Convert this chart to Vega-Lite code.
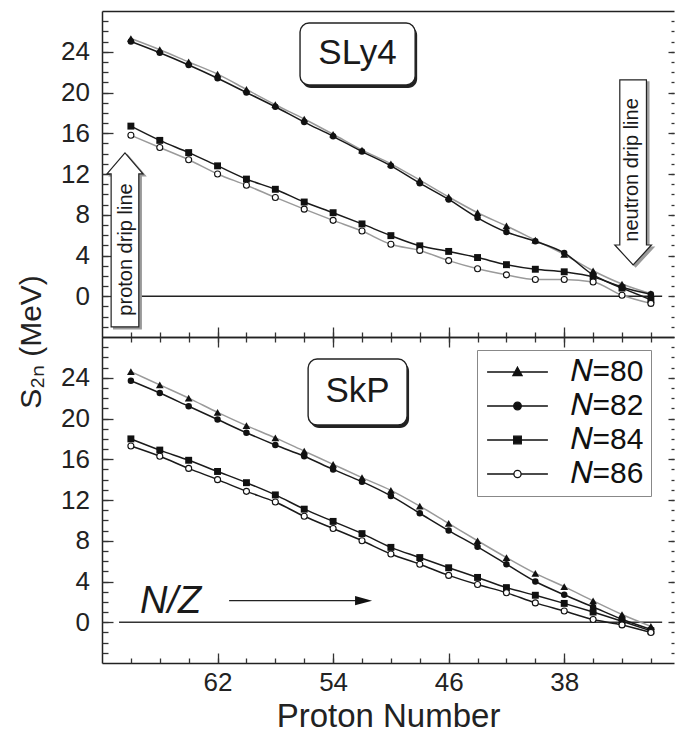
{
  "$schema": "https://vega.github.io/schema/vega-lite/v6.json",
  "padding": {"left": 16, "top": 11, "right": 0, "bottom": 0},
  "bounds": "flush",
  "spacing": 0,
  "config": {
    "font": "Liberation Sans",
    "view": {"stroke": null},
    "axis": {"grid": false, "domainColor": "#222", "domainWidth": 1.5, "tickColor": "#333", "tickWidth": 1.3, "labelFontSize": 26, "labelColor": "#222", "labelFont": "Liberation Sans", "titleFont": "Liberation Sans", "titleFontWeight": "normal", "titleColor": "#222"},
    "legend": {"orient": "none", "legendX": 375, "legendY": 339, "title": null, "padding": 7, "strokeColor": "#888", "fillColor": "white",
               "symbolSize": 64, "symbolStrokeWidth": 1.3, "symbolOffset": 18.5, "symbolOpacity": 1,
               "labelOffset": 38, "labelFontSize": 30, "labelFont": "Liberation Sans", "labelColor": "#111", "rowPadding": 4, "direction": "vertical"}
  },
  "datasets": {
    "s2n": [
      {"model":"SLy4","N":80,"Z":68,"S2n":25.3},{"model":"SLy4","N":80,"Z":66,"S2n":24.2},{"model":"SLy4","N":80,"Z":64,"S2n":23.0},{"model":"SLy4","N":80,"Z":62,"S2n":21.8},{"model":"SLy4","N":80,"Z":60,"S2n":20.3},{"model":"SLy4","N":80,"Z":58,"S2n":18.8},{"model":"SLy4","N":80,"Z":56,"S2n":17.4},{"model":"SLy4","N":80,"Z":54,"S2n":15.9},{"model":"SLy4","N":80,"Z":52,"S2n":14.35},{"model":"SLy4","N":80,"Z":50,"S2n":13.0},{"model":"SLy4","N":80,"Z":48,"S2n":11.4},{"model":"SLy4","N":80,"Z":46,"S2n":9.75},{"model":"SLy4","N":80,"Z":44,"S2n":8.2},{"model":"SLy4","N":80,"Z":42,"S2n":6.9},{"model":"SLy4","N":80,"Z":40,"S2n":5.5},{"model":"SLy4","N":80,"Z":38,"S2n":4.1},{"model":"SLy4","N":80,"Z":36,"S2n":2.5},{"model":"SLy4","N":80,"Z":34,"S2n":1.2},{"model":"SLy4","N":80,"Z":32,"S2n":0.25},
      {"model":"SLy4","N":82,"Z":68,"S2n":25.0},{"model":"SLy4","N":82,"Z":66,"S2n":23.9},{"model":"SLy4","N":82,"Z":64,"S2n":22.7},{"model":"SLy4","N":82,"Z":62,"S2n":21.4},{"model":"SLy4","N":82,"Z":60,"S2n":20.0},{"model":"SLy4","N":82,"Z":58,"S2n":18.6},{"model":"SLy4","N":82,"Z":56,"S2n":17.1},{"model":"SLy4","N":82,"Z":54,"S2n":15.7},{"model":"SLy4","N":82,"Z":52,"S2n":14.2},{"model":"SLy4","N":82,"Z":50,"S2n":12.8},{"model":"SLy4","N":82,"Z":48,"S2n":11.1},{"model":"SLy4","N":82,"Z":46,"S2n":9.5},{"model":"SLy4","N":82,"Z":44,"S2n":7.7},{"model":"SLy4","N":82,"Z":42,"S2n":6.3},{"model":"SLy4","N":82,"Z":40,"S2n":5.4},{"model":"SLy4","N":82,"Z":38,"S2n":4.25},{"model":"SLy4","N":82,"Z":36,"S2n":2.1},{"model":"SLy4","N":82,"Z":34,"S2n":0.9},{"model":"SLy4","N":82,"Z":32,"S2n":0.2},
      {"model":"SLy4","N":84,"Z":68,"S2n":16.7},{"model":"SLy4","N":84,"Z":66,"S2n":15.3},{"model":"SLy4","N":84,"Z":64,"S2n":14.1},{"model":"SLy4","N":84,"Z":62,"S2n":12.8},{"model":"SLy4","N":84,"Z":60,"S2n":11.5},{"model":"SLy4","N":84,"Z":58,"S2n":10.5},{"model":"SLy4","N":84,"Z":56,"S2n":9.25},{"model":"SLy4","N":84,"Z":54,"S2n":8.2},{"model":"SLy4","N":84,"Z":52,"S2n":7.1},{"model":"SLy4","N":84,"Z":50,"S2n":5.95},{"model":"SLy4","N":84,"Z":48,"S2n":4.95},{"model":"SLy4","N":84,"Z":46,"S2n":4.4},{"model":"SLy4","N":84,"Z":44,"S2n":3.8},{"model":"SLy4","N":84,"Z":42,"S2n":3.1},{"model":"SLy4","N":84,"Z":40,"S2n":2.65},{"model":"SLy4","N":84,"Z":38,"S2n":2.4},{"model":"SLy4","N":84,"Z":36,"S2n":1.9},{"model":"SLy4","N":84,"Z":34,"S2n":0.8},{"model":"SLy4","N":84,"Z":32,"S2n":-0.35},
      {"model":"SLy4","N":86,"Z":68,"S2n":15.8},{"model":"SLy4","N":86,"Z":66,"S2n":14.6},{"model":"SLy4","N":86,"Z":64,"S2n":13.4},{"model":"SLy4","N":86,"Z":62,"S2n":12.0},{"model":"SLy4","N":86,"Z":60,"S2n":10.9},{"model":"SLy4","N":86,"Z":58,"S2n":9.7},{"model":"SLy4","N":86,"Z":56,"S2n":8.55},{"model":"SLy4","N":86,"Z":54,"S2n":7.45},{"model":"SLy4","N":86,"Z":52,"S2n":6.4},{"model":"SLy4","N":86,"Z":50,"S2n":5.1},{"model":"SLy4","N":86,"Z":48,"S2n":4.5},{"model":"SLy4","N":86,"Z":46,"S2n":3.5},{"model":"SLy4","N":86,"Z":44,"S2n":2.7},{"model":"SLy4","N":86,"Z":42,"S2n":2.1},{"model":"SLy4","N":86,"Z":40,"S2n":1.65},{"model":"SLy4","N":86,"Z":38,"S2n":1.65},{"model":"SLy4","N":86,"Z":36,"S2n":1.4},{"model":"SLy4","N":86,"Z":34,"S2n":0.1},{"model":"SLy4","N":86,"Z":32,"S2n":-0.7},
      {"model":"SkP","N":80,"Z":68,"S2n":24.6},{"model":"SkP","N":80,"Z":66,"S2n":23.3},{"model":"SkP","N":80,"Z":64,"S2n":22.0},{"model":"SkP","N":80,"Z":62,"S2n":20.6},{"model":"SkP","N":80,"Z":60,"S2n":19.3},{"model":"SkP","N":80,"Z":58,"S2n":18.1},{"model":"SkP","N":80,"Z":56,"S2n":16.8},{"model":"SkP","N":80,"Z":54,"S2n":15.5},{"model":"SkP","N":80,"Z":52,"S2n":14.2},{"model":"SkP","N":80,"Z":50,"S2n":12.95},{"model":"SkP","N":80,"Z":48,"S2n":11.4},{"model":"SkP","N":80,"Z":46,"S2n":9.7},{"model":"SkP","N":80,"Z":44,"S2n":8.0},{"model":"SkP","N":80,"Z":42,"S2n":6.35},{"model":"SkP","N":80,"Z":40,"S2n":4.8},{"model":"SkP","N":80,"Z":38,"S2n":3.5},{"model":"SkP","N":80,"Z":36,"S2n":2.1},{"model":"SkP","N":80,"Z":34,"S2n":0.76},{"model":"SkP","N":80,"Z":32,"S2n":-0.4},
      {"model":"SkP","N":82,"Z":68,"S2n":23.7},{"model":"SkP","N":82,"Z":66,"S2n":22.5},{"model":"SkP","N":82,"Z":64,"S2n":21.2},{"model":"SkP","N":82,"Z":62,"S2n":19.9},{"model":"SkP","N":82,"Z":60,"S2n":18.6},{"model":"SkP","N":82,"Z":58,"S2n":17.4},{"model":"SkP","N":82,"Z":56,"S2n":16.3},{"model":"SkP","N":82,"Z":54,"S2n":15.0},{"model":"SkP","N":82,"Z":52,"S2n":13.8},{"model":"SkP","N":82,"Z":50,"S2n":12.4},{"model":"SkP","N":82,"Z":48,"S2n":10.7},{"model":"SkP","N":82,"Z":46,"S2n":9.0},{"model":"SkP","N":82,"Z":44,"S2n":7.4},{"model":"SkP","N":82,"Z":42,"S2n":5.7},{"model":"SkP","N":82,"Z":40,"S2n":4.0},{"model":"SkP","N":82,"Z":38,"S2n":2.7},{"model":"SkP","N":82,"Z":36,"S2n":1.5},{"model":"SkP","N":82,"Z":34,"S2n":0.3},{"model":"SkP","N":82,"Z":32,"S2n":-0.7},
      {"model":"SkP","N":84,"Z":68,"S2n":18.0},{"model":"SkP","N":84,"Z":66,"S2n":16.9},{"model":"SkP","N":84,"Z":64,"S2n":15.9},{"model":"SkP","N":84,"Z":62,"S2n":14.8},{"model":"SkP","N":84,"Z":60,"S2n":13.7},{"model":"SkP","N":84,"Z":58,"S2n":12.5},{"model":"SkP","N":84,"Z":56,"S2n":11.1},{"model":"SkP","N":84,"Z":54,"S2n":9.9},{"model":"SkP","N":84,"Z":52,"S2n":8.7},{"model":"SkP","N":84,"Z":50,"S2n":7.35},{"model":"SkP","N":84,"Z":48,"S2n":6.35},{"model":"SkP","N":84,"Z":46,"S2n":5.35},{"model":"SkP","N":84,"Z":44,"S2n":4.4},{"model":"SkP","N":84,"Z":42,"S2n":3.4},{"model":"SkP","N":84,"Z":40,"S2n":2.65},{"model":"SkP","N":84,"Z":38,"S2n":1.85},{"model":"SkP","N":84,"Z":36,"S2n":1.0},{"model":"SkP","N":84,"Z":34,"S2n":0.1},{"model":"SkP","N":84,"Z":32,"S2n":-0.85},
      {"model":"SkP","N":86,"Z":68,"S2n":17.3},{"model":"SkP","N":86,"Z":66,"S2n":16.3},{"model":"SkP","N":86,"Z":64,"S2n":15.1},{"model":"SkP","N":86,"Z":62,"S2n":14.0},{"model":"SkP","N":86,"Z":60,"S2n":12.85},{"model":"SkP","N":86,"Z":58,"S2n":11.8},{"model":"SkP","N":86,"Z":56,"S2n":10.4},{"model":"SkP","N":86,"Z":54,"S2n":9.2},{"model":"SkP","N":86,"Z":52,"S2n":8.0},{"model":"SkP","N":86,"Z":50,"S2n":6.7},{"model":"SkP","N":86,"Z":48,"S2n":5.7},{"model":"SkP","N":86,"Z":46,"S2n":4.6},{"model":"SkP","N":86,"Z":44,"S2n":3.7},{"model":"SkP","N":86,"Z":42,"S2n":2.9},{"model":"SkP","N":86,"Z":40,"S2n":1.9},{"model":"SkP","N":86,"Z":38,"S2n":1.1},{"model":"SkP","N":86,"Z":36,"S2n":0.27},{"model":"SkP","N":86,"Z":34,"S2n":-0.26},{"model":"SkP","N":86,"Z":32,"S2n":-1.0}
    ]
  },
  "vconcat": [
    {
      "width": 572,
      "height": 326,
      "data": {"name": "s2n"},
      "transform": [{"filter": "datum.model === 'SLy4'"}],
      "resolve": {"axis": {"x": "independent", "y": "independent"}},
      "layer": [
        {
          "data": {"values": [{}]},
          "mark": {"type": "rule", "color": "#222", "strokeWidth": 1.3},
          "encoding": {
            "x": {"datum": 67.37, "type": "quantitative", "scale": {"domain": [30.4, 70], "reverse": true, "nice": false, "zero": false}, "axis": null},
            "x2": {"datum": 31.22},
            "y": {"datum": 0, "type": "quantitative", "scale": {"domain": [-4, 28], "nice": false, "zero": false}, "axis": null}
          }
        },
        {
          "transform": [{"filter": "datum.N == 80 || datum.N == 86"}],
          "mark": {"type": "line", "color": "#9a9a9a", "strokeWidth": 1.5, "interpolate": "monotone"},
          "encoding": {
            "x": {"field": "Z", "type": "quantitative", "scale": {"domain": [30.4, 70], "reverse": true, "nice": false, "zero": false},
                  "axis": {"orient": "bottom", "values": [62, 54, 46, 38], "tickSize": -10, "labels": false, "domain": true, "title": null}},
            "y": {"field": "S2n", "type": "quantitative", "scale": {"domain": [-4, 28], "nice": false, "zero": false},
                  "axis": {"orient": "left", "values": [0, 4, 8, 12, 16, 20, 24], "tickSize": -11, "labelPadding": 23.5, "domain": true,
                           "title": "S₂ₙ (MeV)", "titleFontSize": 30, "titleX": -71, "titleY": 330.5, "titleAngle": 270, "titleAlign": "center", "titleBaseline": "middle"}},
            "detail": {"field": "N"}
          }
        },
        {
          "transform": [{"filter": "datum.N == 82 || datum.N == 84"}],
          "mark": {"type": "line", "color": "#1a1a1a", "strokeWidth": 1.5, "interpolate": "monotone"},
          "encoding": {
            "x": {"field": "Z", "type": "quantitative", "scale": {"domain": [30.4, 70], "reverse": true, "nice": false, "zero": false},
                  "axis": {"orient": "bottom", "values": [68, 66, 64, 62, 60, 58, 56, 54, 52, 50, 48, 46, 44, 42, 40, 38, 36, 34, 32], "tickSize": -5, "labels": false, "domain": false, "title": null}},
            "y": {"field": "S2n", "type": "quantitative", "scale": {"domain": [-4, 28], "nice": false, "zero": false},
                  "axis": {"orient": "left", "values": [-3, -2, -1, 0, 1, 2, 3, 4, 5, 6, 7, 8, 9, 10, 11, 12, 13, 14, 15, 16, 17, 18, 19, 20, 21, 22, 23, 24, 25, 26, 27], "tickSize": -6, "labels": false, "domain": false, "title": null}},
            "detail": {"field": "N"}
          }
        },
        {
          "transform": [{"filter": "datum.N == 80"}],
          "mark": {"type": "point", "shape": "triangle-up", "filled": true, "color": "#111", "size": 60, "opacity": 1},
          "encoding": {
            "x": {"field": "Z", "type": "quantitative", "scale": {"domain": [30.4, 70], "reverse": true, "nice": false, "zero": false},
                  "axis": {"orient": "top", "ticks": false, "labels": false, "domain": true, "title": null}},
            "y": {"field": "S2n", "type": "quantitative", "scale": {"domain": [-4, 28], "nice": false, "zero": false},
                  "axis": {"orient": "right", "values": [0, 4, 8, 12, 16, 20, 24], "tickSize": -6, "labels": false, "domain": false, "title": null}}
          }
        },
        {
          "transform": [{"filter": "datum.N == 82"}],
          "mark": {"type": "point", "shape": "circle", "filled": true, "color": "#111", "size": 42, "opacity": 1},
          "encoding": {
            "x": {"field": "Z", "type": "quantitative", "scale": {"domain": [30.4, 70], "reverse": true, "nice": false, "zero": false}, "axis": null},
            "y": {"field": "S2n", "type": "quantitative", "scale": {"domain": [-4, 28], "nice": false, "zero": false},
                  "axis": {"orient": "right", "values": [-3, -2, -1, 0, 1, 2, 3, 4, 5, 6, 7, 8, 9, 10, 11, 12, 13, 14, 15, 16, 17, 18, 19, 20, 21, 22, 23, 24, 25, 26, 27], "tickSize": -3, "labels": false, "domain": false, "title": null}}
          }
        },
        {
          "transform": [{"filter": "datum.N == 84"}],
          "mark": {"type": "point", "shape": "square", "filled": true, "color": "#111", "size": 48, "opacity": 1},
          "encoding": {
            "x": {"field": "Z", "type": "quantitative", "scale": {"domain": [30.4, 70], "reverse": true, "nice": false, "zero": false}, "axis": null},
            "y": {"field": "S2n", "type": "quantitative", "scale": {"domain": [-4, 28], "nice": false, "zero": false}, "axis": null}
          }
        },
        {
          "transform": [{"filter": "datum.N == 86"}],
          "mark": {"type": "point", "shape": "circle", "filled": true, "fill": "white", "stroke": "#111", "strokeWidth": 1.1, "size": 36, "opacity": 1},
          "encoding": {
            "x": {"field": "Z", "type": "quantitative", "scale": {"domain": [30.4, 70], "reverse": true, "nice": false, "zero": false}, "axis": null},
            "y": {"field": "S2n", "type": "quantitative", "scale": {"domain": [-4, 28], "nice": false, "zero": false}, "axis": null}
          }
        },
        {
          "data": {"values": [{}]},
          "mark": {"type": "rect", "cornerRadius": 9, "fill": "#222", "xOffset": 2, "x2Offset": 2, "yOffset": 3, "y2Offset": 3},
          "encoding": {
            "x": {"datum": 56.29, "type": "quantitative", "scale": {"domain": [30.4, 70], "reverse": true, "nice": false, "zero": false}, "axis": null},
            "x2": {"datum": 48.32},
            "y": {"datum": 26.82, "type": "quantitative", "scale": {"domain": [-4, 28], "nice": false, "zero": false}, "axis": null},
            "y2": {"datum": 20.74}
          }
        },
        {
          "data": {"values": [{}]},
          "mark": {"type": "rect", "cornerRadius": 9, "fill": "white", "stroke": "#222", "strokeWidth": 1.4},
          "encoding": {
            "x": {"datum": 56.29, "type": "quantitative", "scale": {"domain": [30.4, 70], "reverse": true, "nice": false, "zero": false}, "axis": null},
            "x2": {"datum": 48.32},
            "y": {"datum": 26.82, "type": "quantitative", "scale": {"domain": [-4, 28], "nice": false, "zero": false}, "axis": null},
            "y2": {"datum": 20.74}
          }
        },
        {
          "data": {"values": [{}]},
          "mark": {"type": "text", "text": "SLy4", "fontSize": 35, "align": "center", "baseline": "middle", "color": "#1a1a1a"},
          "encoding": {
            "x": {"datum": 52.31, "type": "quantitative", "scale": {"domain": [30.4, 70], "reverse": true, "nice": false, "zero": false}, "axis": null},
            "y": {"datum": 23.9, "type": "quantitative", "scale": {"domain": [-4, 28], "nice": false, "zero": false}, "axis": null}
          }
        },
        {
          "data": {"values": [{}]},
          "mark": {"type": "point", "shape": "M0,-1L0.207,-0.759L0.159,-0.759L0.159,1L-0.159,1L-0.159,-0.759L-0.207,-0.759Z", "size": 30276, "filled": true, "fill": "#9a9a9a", "stroke": "#9a9a9a", "strokeWidth": 1.2, "opacity": 1, "xOffset": 2.5, "yOffset": 2},
          "encoding": {
            "x": {"datum": 68.41, "type": "quantitative", "scale": {"domain": [30.4, 70], "reverse": true, "nice": false, "zero": false}, "axis": null},
            "y": {"datum": 5.53, "type": "quantitative", "scale": {"domain": [-4, 28], "nice": false, "zero": false}, "axis": null}
          }
        },
        {
          "data": {"values": [{}]},
          "mark": {"type": "point", "shape": "M0,-1L0.207,-0.759L0.159,-0.759L0.159,1L-0.159,1L-0.159,-0.759L-0.207,-0.759Z", "size": 30276, "filled": true, "fill": "white", "stroke": "#222", "strokeWidth": 1.2, "opacity": 1},
          "encoding": {
            "x": {"datum": 68.41, "type": "quantitative", "scale": {"domain": [30.4, 70], "reverse": true, "nice": false, "zero": false}, "axis": null},
            "y": {"datum": 5.53, "type": "quantitative", "scale": {"domain": [-4, 28], "nice": false, "zero": false}, "axis": null}
          }
        },
        {
          "data": {"values": [{}]},
          "mark": {"type": "text", "text": "proton drip line", "fontSize": 20, "angle": 270, "align": "center", "baseline": "middle", "color": "#1a1a1a"},
          "encoding": {
            "x": {"datum": 68.34, "type": "quantitative", "scale": {"domain": [30.4, 70], "reverse": true, "nice": false, "zero": false}, "axis": null},
            "y": {"datum": 4.59, "type": "quantitative", "scale": {"domain": [-4, 28], "nice": false, "zero": false}, "axis": null}
          }
        },
        {
          "data": {"values": [{}]},
          "mark": {"type": "point", "shape": "M-0.144,-1L0.144,-1L0.144,0.784L0.198,0.784L0,1L-0.198,0.784L-0.144,0.784Z", "size": 34225, "filled": true, "fill": "#9a9a9a", "stroke": "#9a9a9a", "strokeWidth": 1.2, "opacity": 1, "xOffset": 2.5, "yOffset": 2},
          "encoding": {
            "x": {"datum": 33.23, "type": "quantitative", "scale": {"domain": [30.4, 70], "reverse": true, "nice": false, "zero": false}, "axis": null},
            "y": {"datum": 12.15, "type": "quantitative", "scale": {"domain": [-4, 28], "nice": false, "zero": false}, "axis": null}
          }
        },
        {
          "data": {"values": [{}]},
          "mark": {"type": "point", "shape": "M-0.144,-1L0.144,-1L0.144,0.784L0.198,0.784L0,1L-0.198,0.784L-0.144,0.784Z", "size": 34225, "filled": true, "fill": "white", "stroke": "#222", "strokeWidth": 1.2, "opacity": 1},
          "encoding": {
            "x": {"datum": 33.23, "type": "quantitative", "scale": {"domain": [30.4, 70], "reverse": true, "nice": false, "zero": false}, "axis": null},
            "y": {"datum": 12.15, "type": "quantitative", "scale": {"domain": [-4, 28], "nice": false, "zero": false}, "axis": null}
          }
        },
        {
          "data": {"values": [{}]},
          "mark": {"type": "text", "text": "neutron drip line", "fontSize": 20, "angle": 270, "align": "center", "baseline": "middle", "color": "#1a1a1a"},
          "encoding": {
            "x": {"datum": 33.32, "type": "quantitative", "scale": {"domain": [30.4, 70], "reverse": true, "nice": false, "zero": false}, "axis": null},
            "y": {"datum": 12.4, "type": "quantitative", "scale": {"domain": [-4, 28], "nice": false, "zero": false}, "axis": null}
          }
        }
      ]
    },
    {
      "width": 572,
      "height": 326,
      "data": {"name": "s2n"},
      "transform": [{"filter": "datum.model === 'SkP'"}],
      "resolve": {"axis": {"x": "independent", "y": "independent"}},
      "layer": [
        {
          "data": {"values": [{}]},
          "mark": {"type": "rule", "color": "#333", "strokeWidth": 1.4},
          "encoding": {
            "x": {"datum": 68.82, "type": "quantitative", "scale": {"domain": [30.4, 70], "reverse": true, "nice": false, "zero": false}, "axis": null},
            "x2": {"datum": 31.22},
            "y": {"datum": 0, "type": "quantitative", "scale": {"domain": [-4, 28], "nice": false, "zero": false}, "axis": null}
          }
        },
        {
          "transform": [{"filter": "datum.N == 80"}],
          "mark": {"type": "line", "color": "#9a9a9a", "strokeWidth": 1.5, "interpolate": "monotone"},
          "encoding": {
            "x": {"field": "Z", "type": "quantitative", "scale": {"domain": [30.4, 70], "reverse": true, "nice": false, "zero": false},
                  "axis": {"orient": "bottom", "values": [62, 54, 46, 38], "tickSize": -10, "labelPadding": 16, "domain": true,
                           "title": "Proton Number", "titleFontSize": 33, "titleY": 53, "titleBaseline": "middle"}},
            "y": {"field": "S2n", "type": "quantitative", "scale": {"domain": [-4, 28], "nice": false, "zero": false},
                  "axis": {"orient": "left", "values": [0, 4, 8, 12, 16, 20, 24], "tickSize": -11, "labelPadding": 23.5, "domain": true, "title": null}},
            "detail": {"field": "N"}
          }
        },
        {
          "transform": [{"filter": "datum.N != 80"}],
          "mark": {"type": "line", "color": "#1a1a1a", "strokeWidth": 1.5, "interpolate": "monotone"},
          "encoding": {
            "x": {"field": "Z", "type": "quantitative", "scale": {"domain": [30.4, 70], "reverse": true, "nice": false, "zero": false},
                  "axis": {"orient": "bottom", "values": [68, 66, 64, 62, 60, 58, 56, 54, 52, 50, 48, 46, 44, 42, 40, 38, 36, 34, 32], "tickSize": -5, "labels": false, "domain": false, "title": null}},
            "y": {"field": "S2n", "type": "quantitative", "scale": {"domain": [-4, 28], "nice": false, "zero": false},
                  "axis": {"orient": "left", "values": [-3, -2, -1, 0, 1, 2, 3, 4, 5, 6, 7, 8, 9, 10, 11, 12, 13, 14, 15, 16, 17, 18, 19, 20, 21, 22, 23, 24, 25, 26, 27], "tickSize": -6, "labels": false, "domain": false, "title": null}},
            "detail": {"field": "N"}
          }
        },
        {
          "transform": [{"filter": "datum.N == 80"}],
          "mark": {"type": "point", "shape": "triangle-up", "filled": true, "color": "#111", "size": 60, "opacity": 1},
          "encoding": {
            "x": {"field": "Z", "type": "quantitative", "scale": {"domain": [30.4, 70], "reverse": true, "nice": false, "zero": false},
                  "axis": {"orient": "top", "values": [62, 54, 46, 38], "tickSize": -10, "labels": false, "domain": true, "title": null}},
            "y": {"field": "S2n", "type": "quantitative", "scale": {"domain": [-4, 28], "nice": false, "zero": false},
                  "axis": {"orient": "right", "values": [0, 4, 8, 12, 16, 20, 24], "tickSize": -6, "labels": false, "domain": false, "title": null}}
          }
        },
        {
          "transform": [{"filter": "datum.N == 82"}],
          "mark": {"type": "point", "shape": "circle", "filled": true, "color": "#111", "size": 42, "opacity": 1},
          "encoding": {
            "x": {"field": "Z", "type": "quantitative", "scale": {"domain": [30.4, 70], "reverse": true, "nice": false, "zero": false},
                  "axis": {"orient": "top", "values": [68, 66, 64, 62, 60, 58, 56, 54, 52, 50, 48, 46, 44, 42, 40, 38, 36, 34, 32], "tickSize": -5, "labels": false, "domain": false, "title": null}},
            "y": {"field": "S2n", "type": "quantitative", "scale": {"domain": [-4, 28], "nice": false, "zero": false},
                  "axis": {"orient": "right", "values": [-3, -2, -1, 0, 1, 2, 3, 4, 5, 6, 7, 8, 9, 10, 11, 12, 13, 14, 15, 16, 17, 18, 19, 20, 21, 22, 23, 24, 25, 26, 27], "tickSize": -3, "labels": false, "domain": false, "title": null}}
          }
        },
        {
          "transform": [{"filter": "datum.N == 84"}],
          "mark": {"type": "point", "shape": "square", "filled": true, "color": "#111", "size": 48, "opacity": 1},
          "encoding": {
            "x": {"field": "Z", "type": "quantitative", "scale": {"domain": [30.4, 70], "reverse": true, "nice": false, "zero": false}, "axis": null},
            "y": {"field": "S2n", "type": "quantitative", "scale": {"domain": [-4, 28], "nice": false, "zero": false}, "axis": null}
          }
        },
        {
          "transform": [{"filter": "datum.N == 86"}],
          "mark": {"type": "point", "shape": "circle", "filled": true, "fill": "white", "stroke": "#111", "strokeWidth": 1.1, "size": 36, "opacity": 1},
          "encoding": {
            "x": {"field": "Z", "type": "quantitative", "scale": {"domain": [30.4, 70], "reverse": true, "nice": false, "zero": false}, "axis": null},
            "y": {"field": "S2n", "type": "quantitative", "scale": {"domain": [-4, 28], "nice": false, "zero": false}, "axis": null}
          }
        },
        {
          "transform": [{"filter": "datum.Z == 68"}],
          "mark": {"type": "point", "filled": true, "strokeWidth": 1.3, "size": 64, "opacity": 0},
          "encoding": {
            "x": {"field": "Z", "type": "quantitative", "scale": {"domain": [30.4, 70], "reverse": true, "nice": false, "zero": false}, "axis": null},
            "y": {"field": "S2n", "type": "quantitative", "scale": {"domain": [-4, 28], "nice": false, "zero": false}, "axis": null},
            "shape": {"field": "N", "type": "nominal",
              "scale": {"domain": [80, 82, 84, 86], "range": [
                "M-7.6,0H7.6M0,-1.2L1.15,0.9L-1.15,0.9Z",
                "M-7.6,0H7.6M-0.95,0A0.95,0.95,0,1,0,0.95,0A0.95,0.95,0,1,0,-0.95,0Z",
                "M-7.6,0H7.6M-0.95,-0.95H0.95V0.95H-0.95Z",
                "M-7.6,0H-0.9M0.9,0H7.6M-0.9,0A0.9,0.9,0,1,0,0.9,0A0.9,0.9,0,1,0,-0.9,0Z"]},
              "legend": {"labelExpr": "'𝑁=' + datum.label"}},
            "fill": {"field": "N", "type": "nominal",
              "scale": {"domain": [80, 82, 84, 86], "range": ["#111111", "#111111", "#111111", "#ffffff"]},
              "legend": {"labelExpr": "'𝑁=' + datum.label"}},
            "stroke": {"field": "N", "type": "nominal",
              "scale": {"domain": [80, 82, 84, 86], "range": ["#111111", "#111111", "#111111", "#111111"]},
              "legend": {"labelExpr": "'𝑁=' + datum.label"}}
          }
        },
        {
          "data": {"values": [{}]},
          "mark": {"type": "rect", "cornerRadius": 9, "fill": "#222", "xOffset": 2, "x2Offset": 2, "yOffset": 3, "y2Offset": 3},
          "encoding": {
            "x": {"datum": 55.73, "type": "quantitative", "scale": {"domain": [30.4, 70], "reverse": true, "nice": false, "zero": false}, "axis": null},
            "x2": {"datum": 48.88},
            "y": {"datum": 25.84, "type": "quantitative", "scale": {"domain": [-4, 28], "nice": false, "zero": false}, "axis": null},
            "y2": {"datum": 19.36}
          }
        },
        {
          "data": {"values": [{}]},
          "mark": {"type": "rect", "cornerRadius": 9, "fill": "white", "stroke": "#222", "strokeWidth": 1.4},
          "encoding": {
            "x": {"datum": 55.73, "type": "quantitative", "scale": {"domain": [30.4, 70], "reverse": true, "nice": false, "zero": false}, "axis": null},
            "x2": {"datum": 48.88},
            "y": {"datum": 25.84, "type": "quantitative", "scale": {"domain": [-4, 28], "nice": false, "zero": false}, "axis": null},
            "y2": {"datum": 19.36}
          }
        },
        {
          "data": {"values": [{}]},
          "mark": {"type": "text", "text": "SkP", "fontSize": 35, "align": "center", "baseline": "middle", "color": "#1a1a1a"},
          "encoding": {
            "x": {"datum": 52.31, "type": "quantitative", "scale": {"domain": [30.4, 70], "reverse": true, "nice": false, "zero": false}, "axis": null},
            "y": {"datum": 22.7, "type": "quantitative", "scale": {"domain": [-4, 28], "nice": false, "zero": false}, "axis": null}
          }
        },
        {
          "data": {"values": [{}]},
          "mark": {"type": "text", "text": "N/Z", "fontSize": 38, "fontStyle": "italic", "align": "left", "baseline": "alphabetic", "color": "#1a1a1a"},
          "encoding": {
            "x": {"datum": 67.37, "type": "quantitative", "scale": {"domain": [30.4, 70], "reverse": true, "nice": false, "zero": false}, "axis": null},
            "y": {"datum": 0.94, "type": "quantitative", "scale": {"domain": [-4, 28], "nice": false, "zero": false}, "axis": null}
          }
        },
        {
          "data": {"values": [{}]},
          "mark": {"type": "rule", "color": "#222", "strokeWidth": 1.3},
          "encoding": {
            "x": {"datum": 61.2, "type": "quantitative", "scale": {"domain": [30.4, 70], "reverse": true, "nice": false, "zero": false}, "axis": null},
            "x2": {"datum": 52.27},
            "y": {"datum": 2.12, "type": "quantitative", "scale": {"domain": [-4, 28], "nice": false, "zero": false}, "axis": null}
          }
        },
        {
          "data": {"values": [{}]},
          "mark": {"type": "point", "shape": "M-1,-0.55L1,0L-1,0.55Z", "size": 289, "filled": true, "color": "#111", "opacity": 1},
          "encoding": {
            "x": {"datum": 51.89, "type": "quantitative", "scale": {"domain": [30.4, 70], "reverse": true, "nice": false, "zero": false}, "axis": null},
            "y": {"datum": 2.12, "type": "quantitative", "scale": {"domain": [-4, 28], "nice": false, "zero": false}, "axis": null}
          }
        }
      ]
    }
  ]
}
